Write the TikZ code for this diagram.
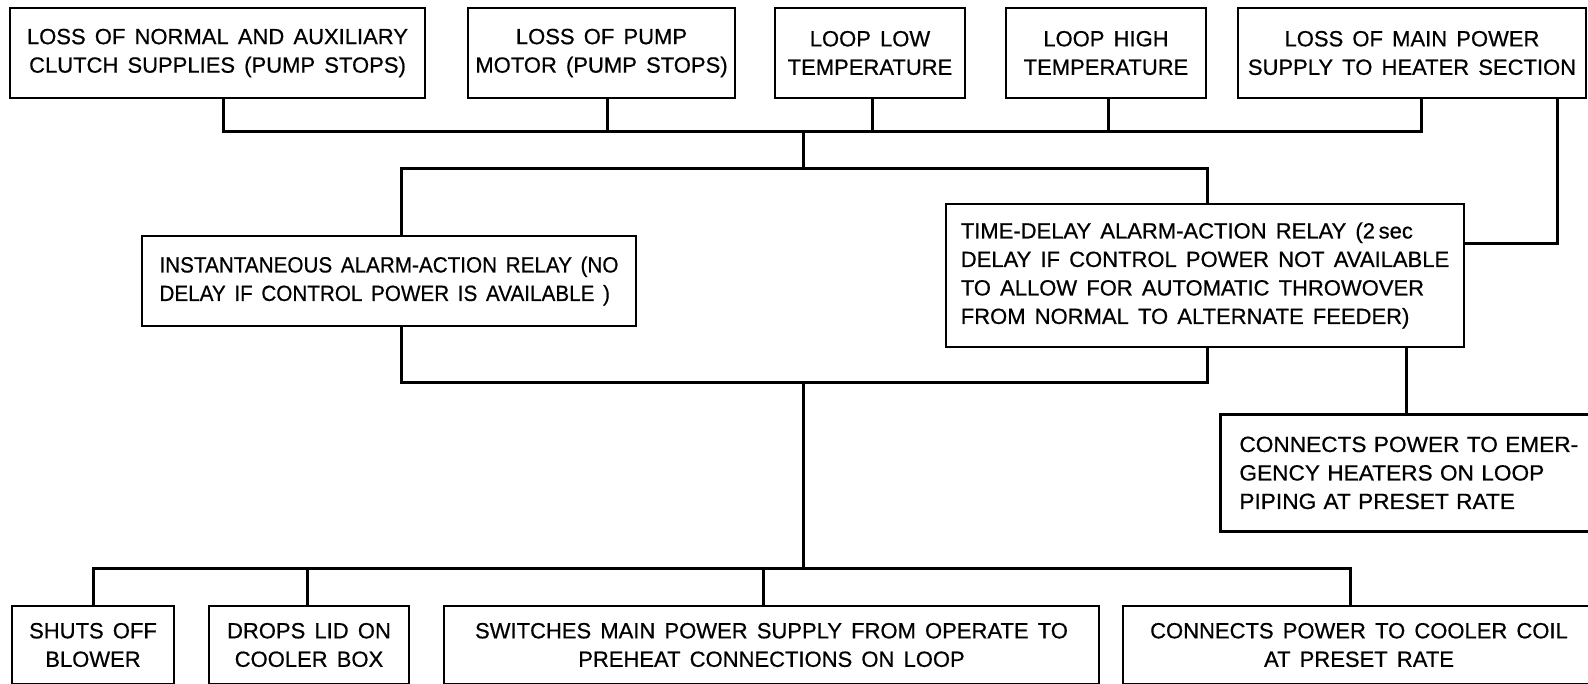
\documentclass[tikz,border=0pt]{standalone}
\usepackage{fontspec}
\setmainfont[FakeBold=0.6, WordSpace=1.5]{Liberation Sans}
\newcommand{\lbl}{\fontsize{22}{28.5}\selectfont}
\tikzset{
  box/.style={draw, line width=2.8pt, inner sep=0pt, align=center, font=\lbl},
  topbox/.style={box, minimum height=90pt},
  botbox/.style={box, minimum height=78pt},
  wire/.style={line width=3pt, line join=miter}
}
\begin{document}
\begin{tikzpicture}[x=1pt,y=-1pt]
\useasboundingbox (0,0) rectangle (1588,683);
\clip (0,0) rectangle (1588,683);
% top row
\node[topbox, minimum width=415pt] (b1) at (217.5,53) {LOSS OF NORMAL AND AUXILIARY\\CLUTCH SUPPLIES (PUMP STOPS)};
\node[topbox, minimum width=267pt] (b2) at (601.5,53) {LOSS OF PUMP\\MOTOR (PUMP STOPS)};
\node[topbox, minimum width=190pt] (b3) at (870,53) {LOOP LOW\\TEMPERATURE};
\node[topbox, minimum width=200pt] (b4) at (1106,53) {LOOP HIGH\\TEMPERATURE};
\node[topbox, minimum width=348pt] (b5) at (1412,53) {LOSS OF MAIN POWER\\SUPPLY TO HEATER SECTION};
% relays
\node[box, align=left, font={\lbl\addfontfeature{FakeStretch=0.94}}, minimum width=494pt, minimum height=90pt] (inst) at (389,281)
  {INSTANTANEOUS ALARM-ACTION RELAY (NO\\DELAY IF CONTROL POWER IS AVAILABLE )};
\node[box, align=left, minimum width=518pt, minimum height=143pt] (td) at (1205,275.5)
  {TIME-DELAY ALARM-ACTION RELAY (2\,sec\\DELAY IF CONTROL POWER NOT AVAILABLE\\TO ALLOW FOR AUTOMATIC THROWOVER\\FROM NORMAL TO ALTERNATE FEEDER)};
\node[box, align=left, font={\lbl\addfontfeature{FakeStretch=1.03}}, anchor=north west, text width=380pt, inner xsep=19pt, minimum height=117pt] (erh) at (1219,413)
  {CONNECTS POWER TO EMER-\\GENCY HEATERS ON LOOP\\PIPING AT PRESET RATE};
% bottom row
\node[botbox, minimum width=162pt] (s1) at (93,645) {SHUTS OFF\\BLOWER};
\node[botbox, minimum width=200pt] (s2) at (309,645) {DROPS LID ON\\COOLER BOX};
\node[botbox, minimum width=655pt] (s3) at (771.5,645) {SWITCHES MAIN POWER SUPPLY FROM OPERATE TO\\PREHEAT CONNECTIONS ON LOOP};
\node[botbox, minimum width=472pt] (s4) at (1359,645) {CONNECTS POWER TO COOLER COIL\\AT PRESET RATE};
% junction coordinates
\coordinate (t1) at (223,131);
\coordinate (t2) at (607,131);
\coordinate (t3) at (872,131);
\coordinate (t4) at (1108,131);
\coordinate (t5) at (1421,131);
\coordinate (tm) at (803,131);
\coordinate (ma) at (803,168);
\coordinate (ml) at (401,168);
\coordinate (mr) at (1207,168);
\coordinate (ll) at (401,382);
\coordinate (lr) at (1207,382);
\coordinate (lm) at (803,382);
\coordinate (bm) at (803,568);
\coordinate (u1) at (93,568);
\coordinate (u2) at (307,568);
\coordinate (u3) at (763,568);
\coordinate (u4) at (1350,568);
\coordinate (rv) at (1557,243);
\coordinate (ex) at (1406,382);
% connectors
\draw[wire] (t1 |- b1.south) -- (t1) -- (t5) -- (t5 |- b5.south);
\draw[wire] (t2 |- b2.south) -- (t2);
\draw[wire] (t3 |- b3.south) -- (t3);
\draw[wire] (t4 |- b4.south) -- (t4);
\draw[wire] (tm) -- (ma);
\draw[wire] (ml |- inst.north) -- (ml) -- (mr) -- (mr |- td.north);
\draw[wire] (ll |- inst.south) -- (ll) -- (lr) -- (lr |- td.south);
\draw[wire] (lm) -- (bm);
\draw[wire] (u1 |- s1.north) -- (u1) -- (u4) -- (u4 |- s4.north);
\draw[wire] (u2 |- s2.north) -- (u2);
\draw[wire] (u3 |- s3.north) -- (u3);
\draw[wire] (ex |- td.south) -- (ex |- erh.north);
\draw[wire] (rv |- b5.south) -- (rv) -- (rv -| td.east);
\end{tikzpicture}
\end{document}
